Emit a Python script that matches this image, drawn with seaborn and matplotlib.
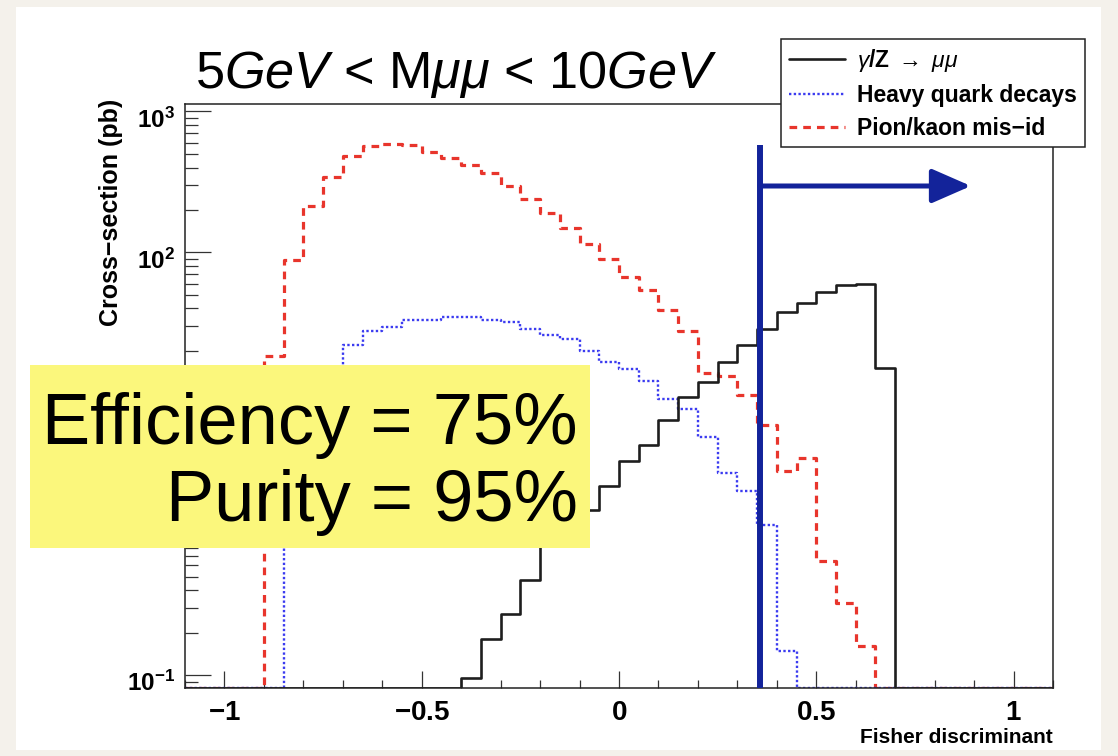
import numpy as np
import pandas as pd
import matplotlib
matplotlib.use("Agg")
import matplotlib.pyplot as plt
import seaborn as sns
from matplotlib.lines import Line2D
from matplotlib.patches import Rectangle
from matplotlib.transforms import ScaledTranslation
from matplotlib.ticker import MultipleLocator, FuncFormatter, LogLocator, NullFormatter

# ---------------- data (44 bins of width 0.05 from -1.1 to 1.1) ----------------
bin_edges = np.round(np.linspace(-1.1, 1.1, 45), 3)

dy_mumu = [0, 0, 0, 0, 0, 0, 0, 0, 0, 0, 0, 0, 0, 0,
           0.095, 0.18, 0.27, 0.47, 0.95, 1.2, 1.48, 2.2, 3.3, 4.3, 6.5, 9.4,
           12.1, 16.6, 22.0, 28.6, 37.8, 43.6, 52.6, 58.5, 59.4, 15.2,
           0, 0, 0, 0, 0, 0, 0, 0]

heavy_quark = [0, 0, 0, 0, 0,
               4.0, 8.0, 12.0, 22.0, 27.9, 29.7, 33.1, 33.1, 34.6, 34.6, 33.1,
               31.8, 28.5, 25.9, 24.2, 20.1, 16.8, 14.9, 12.2, 9.1, 7.7, 4.87,
               2.72, 2.02, 1.16, 0.149,
               0, 0, 0, 0, 0, 0, 0, 0, 0, 0, 0, 0, 0]

pion_kaon = [0, 0, 0, 0,
             18.5, 88, 214, 345, 484, 570, 586, 579, 519, 466, 418, 365, 296,
             241, 190, 148, 115, 90, 67, 54, 39, 27.7, 14.0, 13.2, 9.7, 5.96,
             2.82, 3.46, 0.645, 0.326, 0.161,
             0, 0, 0, 0, 0, 0, 0, 0, 0]

series_labels = [r"$\gamma$/Z $\rightarrow$ $\mu\mu$", "Heavy quark decays", "Pion/kaon mis\u2212id"]
y_labelled_decades = [3, 2, -1]   # 10^1 and 10^0 are hidden behind the yellow box
cut_value = 0.357
arrow_end = 0.892

# ---------------- styling ----------------
sns.set_style("ticks")
plt.rcParams["font.family"] = ["Liberation Sans", "DejaVu Sans"]
plt.rcParams["mathtext.fontset"] = "custom"
plt.rcParams["mathtext.rm"] = "Liberation Sans"
plt.rcParams["mathtext.it"] = "Liberation Sans:italic"
plt.rcParams["mathtext.bf"] = "Liberation Sans:bold"
for k in ["text.color", "axes.labelcolor", "xtick.labelcolor", "ytick.labelcolor"]:
    plt.rcParams[k] = "black"

W, H = 1118, 756
YMIN, YMAX = 0.081, 1130
NAVY = "#13239a"
BLACK = "#1e1e1e"
BLUE = "#3b3bf0"
RED = "#e8352c"

fig = plt.figure(figsize=(W / 100, H / 100), dpi=100)
fig.patch.set_facecolor("#f4f1eb")
fig.add_artist(Rectangle((16 / W, 1 - 750 / H), (1101 - 16) / W, (750 - 7) / H,
                         transform=fig.transFigure, facecolor="white",
                         edgecolor="none", zorder=-10))

ax = fig.add_axes([185 / W, 1 - 688 / H, 868 / W, 584 / H])
ax.set_facecolor("white")

edges = np.asarray(bin_edges, dtype=float)
centers = (edges[:-1] + edges[1:]) / 2

styles = [
    (pion_kaon, RED, (0, (2.4, 1.9)), 2.3),
    (heavy_quark, BLUE, (0, (1, 1)), 1.7),
    (dy_mumu, BLACK, "-", 1.9),
]
for vals, color, ls, lw in styles:
    v = np.asarray(vals, dtype=float)
    shown = np.where(v > 0, v, YMIN)  # empty bins drawn on the frame, as in ROOT
    df = pd.DataFrame({"fisher": centers, "xsec": shown})
    sns.histplot(data=df, x="fisher", weights="xsec", bins=list(edges),
                 element="step", fill=False, color=color, linestyle=ls,
                 linewidth=lw, ax=ax)

ax.set_yscale("log")
ax.set_xlim(-1.1, 1.1)
ax.set_ylim(YMIN, YMAX)

# cut line and arrow
ax.axvline(cut_value, ymin=0, ymax=(688 - 145) / 584, color=NAVY, lw=4.3,
           solid_capstyle="butt", zorder=5)
ay = (688 - 186) / 584
ax.annotate("", xy=(arrow_end, ay), xytext=(cut_value, ay),
            xycoords=("data", "axes fraction"), textcoords=("data", "axes fraction"),
            arrowprops=dict(arrowstyle="-|>,head_length=0.8,head_width=0.35",
                            mutation_scale=30, lw=3.6, color=NAVY,
                            shrinkA=0, shrinkB=0), zorder=5)

# axes / ticks
for s in ax.spines.values():
    s.set_linewidth(1.1)
    s.set_color("#222222")
ax.xaxis.set_major_locator(MultipleLocator(0.5))
ax.xaxis.set_minor_locator(MultipleLocator(0.1))
ax.xaxis.set_major_formatter(FuncFormatter(
    lambda v, p: r"$\mathbf{%s}$" % ("%g" % (round(v, 2) + 0.0))))
ax.yaxis.set_major_locator(LogLocator(base=10, numticks=10))
ax.yaxis.set_minor_locator(LogLocator(base=10, subs=np.arange(2, 10), numticks=20))
ax.yaxis.set_minor_formatter(NullFormatter())


def ylab(v, p):
    e = int(round(np.log10(v)))
    return r"$\mathbf{10^{%d}}$" % e if e in y_labelled_decades else ""


ax.yaxis.set_major_formatter(FuncFormatter(ylab))
ax.tick_params(axis="both", which="both", direction="in", top=False, right=False,
               color="#333333", width=0.9)
ax.tick_params(axis="x", which="major", length=12, pad=8.5, labelsize=20)
ax.tick_params(axis="x", which="minor", length=6)
ax.tick_params(axis="y", which="major", length=19, pad=7, labelsize=17.5)
ax.tick_params(axis="y", which="minor", length=9.5)

ax.set_ylabel("Cross\u2212section (pb)", fontsize=18, fontweight="bold", loc="top")
ax.yaxis.set_label_coords(-0.072, 1.0098)
ax.set_xlabel("Fisher discriminant", fontsize=15, fontweight="bold", loc="right")
ax.xaxis.set_label_coords(1.0, -0.0685)

# legend
handles = [
    Line2D([], [], color=BLACK, lw=1.9, ls="-"),
    Line2D([], [], color=BLUE, lw=1.7, ls=(0, (1, 1))),
    Line2D([], [], color=RED, lw=2.3, ls=(0, (2.4, 1.9))),
]
leg = fig.legend(handles, series_labels, loc="upper left",
                 bbox_to_anchor=(781 / W, 1 - 39 / H), frameon=True, fancybox=False,
                 edgecolor="#222222", framealpha=1, borderaxespad=0,
                 prop={"size": 16.5, "weight": "bold"}, handlelength=2.45,
                 handletextpad=0.55, borderpad=0.33, labelspacing=0.44)
leg.get_frame().set_linewidth(1.1)

# title
fig.text(195 / W, 1 - 88 / H, r"5$\mathit{GeV}$ < M$\mu\mu$ < 10$\mathit{GeV}$",
         fontsize=37.6, fontweight="normal", ha="left", va="baseline")

# yellow annotation box
fig.add_artist(Rectangle((30 / W, 1 - 548 / H), 560 / W, 183 / H,
                         transform=fig.transFigure, facecolor="#fbf77c",
                         edgecolor="none", zorder=3))
fig.text(578 / W, 1 - 444 / H, "Efficiency = 75%", fontsize=52, fontweight="normal",
         ha="right", va="baseline", zorder=4)
fig.text(578 / W, 1 - 521 / H, "Purity = 95%", fontsize=52, fontweight="normal",
         ha="right", va="baseline", zorder=4)

# ROOT places log-axis labels slightly below their ticks
fig.canvas.draw()
shift = ScaledTranslation(0, -6 / 100, fig.dpi_scale_trans)
for t in ax.yaxis.get_major_ticks():
    t.label1.set_transform(t.label1.get_transform() + shift)

fig.savefig("out.png", dpi=100, facecolor=fig.get_facecolor())
